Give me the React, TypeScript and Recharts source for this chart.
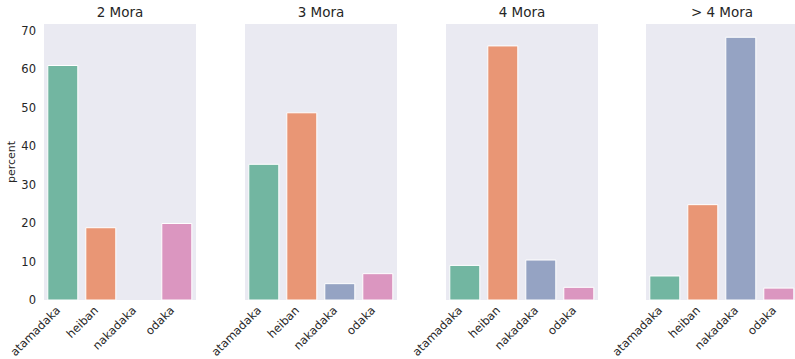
import { Bar, BarChart, CartesianGrid, Cell, XAxis, YAxis } from 'recharts';

const categories = ['atamadaka', 'heiban', 'nakadaka', 'odaka'];
const panelTitles = ['2 Mora', '3 Mora', '4 Mora', '> 4 Mora'];
const mora2 = [61.0, 18.8, 0, 19.9];
const mora3 = [35.3, 48.7, 4.25, 6.85];
const mora4 = [9.0, 66.1, 10.4, 3.3];
const moraMore = [6.25, 24.8, 68.35, 3.1];
const yTicks = [0, 10, 20, 30, 40, 50, 60, 70];

const barColors = ['#72b6a1', '#e99675', '#95a3c3', '#db96c0'];
const panelValues = [mora2, mora3, mora4, moraMore];
const plotLefts = [44, 245, 446, 646];
const PLOT_W = 152;
const FONT = '"DejaVu Sans", sans-serif';
const INK = '#262626';

function RotatedTick({ x, y, payload }: any) {
  return (
    <text
      x={x - 2}
      y={y + 11}
      transform={`rotate(-45 ${x - 2} ${y + 11})`}
      textAnchor="end"
      fontSize={11.5}
      fontFamily={FONT}
      fill={INK}
    >
      {payload.value}
    </text>
  );
}

function Panel({ idx }: { idx: number }) {
  const first = idx === 0;
  const axisW = first ? 44 : 60;
  const data = categories.map((c, i) => ({ category: c, value: panelValues[idx][i] }));
  return (
    <div style={{ position: 'absolute', left: plotLefts[idx] - axisW, top: 0 }}>
      <BarChart
        width={axisW + PLOT_W}
        height={359}
        data={data}
        margin={{ top: 24, right: 0, bottom: 0, left: 0 }}
        barCategoryGap="10%"
        style={{ overflow: 'visible' }}
      >
        <CartesianGrid fill="#EAEAF2" horizontal={false} vertical={false} />
        <XAxis
          dataKey="category"
          height={59}
          axisLine={false}
          tickLine={false}
          tickSize={0}
          tickMargin={0}
          interval={0}
          tick={<RotatedTick />}
        />
        <YAxis
          width={axisW}
          domain={[0, 71.8]}
          ticks={yTicks}
          axisLine={false}
          tickLine={false}
          tick={first ? { fontSize: 11.5, fill: INK, fontFamily: FONT } : false}
        />
        <Bar dataKey="value" isAnimationActive={false} stroke="#ffffff" strokeWidth={1}>
          {data.map((d, i) => (
            <Cell key={d.category} fill={barColors[i]} />
          ))}
        </Bar>
      </BarChart>
    </div>
  );
}

export default function App() {
  return (
    <div
      style={{
        position: 'absolute',
        left: 0,
        top: 0,
        width: 795,
        height: 359,
        overflow: 'hidden',
        background: '#ffffff',
      }}
    >
      {panelTitles.map((_, i) => (
        <Panel key={i} idx={i} />
      ))}
      <svg width={795} height={359} style={{ position: 'absolute', left: 0, top: 0, pointerEvents: 'none' }}>
        {panelTitles.map((t, i) => (
          <text
            key={t}
            x={plotLefts[i] + PLOT_W / 2}
            y={17}
            textAnchor="middle"
            fontSize={13.5}
            fontFamily={FONT}
            fill={INK}
          >
            {t}
          </text>
        ))}
        <text
          x={15}
          y={162}
          transform="rotate(-90 15 162)"
          textAnchor="middle"
          fontSize={11}
          fontFamily={FONT}
          fill={INK}
        >
          percent
        </text>
      </svg>
    </div>
  );
}
